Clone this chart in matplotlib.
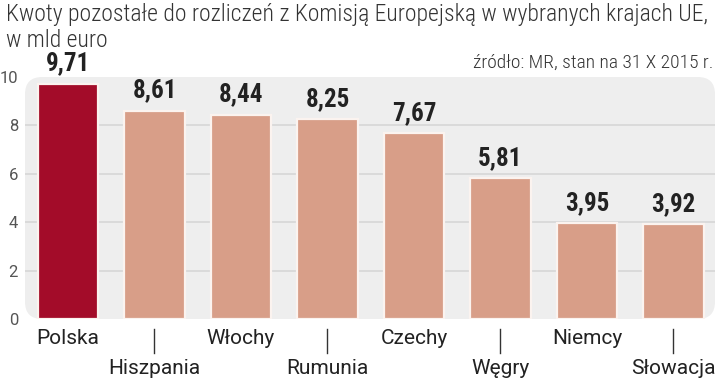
import matplotlib
matplotlib.use("Agg")
import matplotlib.pyplot as plt
from matplotlib.patches import FancyBboxPatch
from matplotlib.font_manager import FontProperties, fontManager

categories = ["Polska", "Hiszpania", "Włochy", "Rumunia", "Czechy", "Węgry", "Niemcy", "Słowacja"]
values = [9.71, 8.61, 8.44, 8.25, 7.67, 5.81, 3.95, 3.92]
value_labels = ["9,71", "8,61", "8,44", "8,25", "7,67", "5,81", "3,95", "3,92"]
yticks = [0, 2, 4, 6, 8, 10]
title1 = "Kwoty pozostałe do rozliczeń z Komisją Europejską w wybranych krajach UE,"
title2 = "w mld euro"
source = "źródło: MR, stan na 31 X 2015 r."


def find_font(cands, weight, stretches=("condensed", "semi-condensed", "extra-condensed")):
    best = None
    for f in fontManager.ttflist:
        if f.name in cands and f.stretch in stretches and f.style == "normal":
            w = f.weight if isinstance(f.weight, int) else 400
            d = abs(w - weight) + cands.index(f.name) * 1000
            if best is None or d < best[0]:
                best = (d, f.fname)
    if best:
        return FontProperties(fname=best[1])
    return None


cond_names = ["Roboto Condensed", "Open Sans", "Open Sans Condensed", "IBM Plex Sans Condensed",
              "Fira Sans Condensed", "Noto Sans"]
light = find_font(cond_names, 300) or FontProperties(family="DejaVu Sans")
bold = find_font(cond_names, 700) or FontProperties(family="DejaVu Sans", weight="bold")
regular = FontProperties(family=["Roboto", "DejaVu Sans"])

W, H = 720, 381
fig = plt.figure(figsize=(W / 100, H / 100), dpi=100)
fig.patch.set_facecolor("white")
renderer = fig.canvas.get_renderer()


def fit(t, width_px):
    bb = t.get_window_extent(renderer=renderer)
    t.set_fontsize(t.get_fontsize() * width_px / bb.width)


ax = fig.add_axes([25 / W, (H - 319) / H, 690 / W, 242 / H])
ax.set_xlim(-0.497, 7.48)
ax.set_ylim(0, 10)
ax.patch.set_visible(False)
for s in ax.spines.values():
    s.set_visible(False)

bg = FancyBboxPatch((0, 0), 1, 1, boxstyle="round,pad=0,rounding_size=0.025",
                    mutation_aspect=690 / 242, transform=ax.transAxes,
                    facecolor="#eeeeee", edgecolor="none", zorder=0, clip_on=False)
ax.add_patch(bg)
for yv in yticks[1:-1]:
    ax.axhline(yv, color="#d6d6d6", lw=1.2, zorder=1)

colors = ["#a30c29"] + ["#d89e88"] * (len(categories) - 1)
x = list(range(len(categories)))
ax.bar(x, values, width=0.695, color=colors, edgecolor="#fbf3ef", linewidth=1.6, zorder=2)

for xi, v, lab in zip(x, values, value_labels):
    t = ax.annotate(lab, (xi, v), xytext=(0, 6), textcoords="offset points",
                    ha="center", va="bottom", fontproperties=bold,
                    color="#222222", zorder=3)
    t.set_fontsize(18)

ax.set_yticks(yticks)
ax.set_yticklabels([str(t) for t in yticks], color="#555555", fontproperties=regular)
for lbl in ax.get_yticklabels():
    lbl.set_fontsize(12)
ax.tick_params(axis="y", length=0, pad=5)
ax.set_xticks([])

for xi, c in zip(x, categories):
    if xi % 2 == 0:
        ax.text(xi, -0.8, c, ha="center", va="center", color="#222222",
                fontproperties=regular).set_fontsize(15)
    else:
        ax.plot([xi, xi], [-0.4, -1.4], color="#333333", lw=1, clip_on=False)
        ax.text(xi, -2.05, c, ha="center", va="center", fontproperties=regular,
                color="#222222").set_fontsize(15)

t1 = fig.text(6 / W, 1 - 21 / H, title1, ha="left", va="baseline", fontproperties=light,
              color="#333333")
fit(t1, 699)
t2 = fig.text(6 / W, 1 - 47 / H, title2, ha="left", va="baseline", fontproperties=light,
              color="#333333")
t2.set_fontsize(t1.get_fontsize())
t3 = fig.text(713 / W, 1 - 63 / H, source, ha="right", va="center", fontproperties=light,
              color="#333333")
fit(t3, 240)

fig.savefig("out.png", dpi=100, facecolor="white")
